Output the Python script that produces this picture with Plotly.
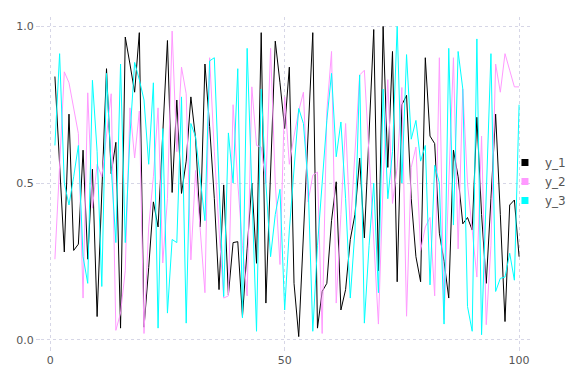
import plotly.graph_objects as go

x = list(range(1, 101))

y_1 = [0.84, 0.56, 0.28, 0.72, 0.285, 0.305, 0.605, 0.257, 0.544, 0.074,
       0.47, 0.865, 0.53, 0.63, 0.037, 0.966, 0.88, 0.79, 0.98, 0.04,
       0.23, 0.44, 0.36, 0.65, 0.955, 0.47, 0.765, 0.467, 0.57, 0.775,
       0.642, 0.36, 0.88, 0.68, 0.45, 0.16, 0.494, 0.143, 0.31, 0.313,
       0.074, 0.29, 0.5, 0.244, 0.98, 0.117, 0.55, 0.953, 0.82, 0.674,
       0.87, 0.18, 0.01, 0.33, 0.65, 0.98, 0.037, 0.154, 0.18, 0.38,
       0.504, 0.095, 0.16, 0.32, 0.4, 0.58, 0.325, 0.65, 0.99, 0.22,
       1.0, 0.55, 0.92, 0.185, 0.75, 0.78, 0.45, 0.265, 0.185, 0.9,
       0.65, 0.626, 0.34, 0.25, 0.133, 0.605, 0.52, 0.37, 0.39, 0.35,
       0.71, 0.4, 0.18, 0.45, 0.72, 0.4, 0.058, 0.43, 0.446, 0.265]

y_2 = [0.257, 0.55, 0.855, 0.82, 0.74, 0.658, 0.133, 0.788, 0.42, 0.56,
       0.52, 0.65, 0.785, 0.03, 0.085, 0.22, 0.74, 0.58, 0.73, 0.02,
       0.36, 0.52, 0.74, 0.245, 0.45, 0.985, 0.6, 0.87, 0.785, 0.255,
       0.54, 0.35, 0.15, 0.90, 0.6, 0.35, 0.133, 0.14, 0.75, 0.5,
       0.3, 0.14, 0.807, 0.62, 0.615, 0.5, 0.93, 0.5, 0.24, 0.775,
       0.56, 0.65, 0.73, 0.79, 0.44, 0.525, 0.535, 0.02, 0.73, 0.92,
       0.117, 0.4, 0.69, 0.35, 0.6, 0.845, 0.86, 0.6, 0.3, 0.05,
       0.5, 0.83, 0.435, 0.55, 0.805, 0.075, 0.55, 0.615, 0.285, 0.36,
       0.39, 0.14, 0.9, 0.064, 0.5, 0.9, 0.29, 0.8, 0.5, 0.35,
       0.2, 0.65, 0.048, 0.3, 0.88, 0.79, 0.913, 0.86, 0.807, 0.807]

y_3 = [0.62, 0.913, 0.5, 0.43, 0.52, 0.62, 0.265, 0.18, 0.828, 0.6,
       0.17, 0.85, 0.55, 0.31, 0.88, 0.31, 0.65, 0.885, 0.83, 0.765,
       0.56, 0.82, 0.037, 0.674, 0.085, 0.32, 0.31, 0.775, 0.053, 0.69,
       0.647, 0.52, 0.38, 0.89, 0.90, 0.5, 0.138, 0.66, 0.5, 0.865,
       0.07, 0.93, 0.5, 0.027, 0.8, 0.5, 0.265, 0.4, 0.48, 0.095,
       0.35, 0.55, 0.738, 0.69, 0.5, 0.027, 0.3, 0.5, 0.7, 0.85,
       0.584, 0.695, 0.45, 0.133, 0.35, 0.845, 0.053, 0.3, 0.5, 0.15,
       0.8, 0.45, 0.6, 1.0, 0.5, 0.91, 0.64, 0.7, 0.57, 0.62,
       0.175, 0.557, 0.5, 0.05, 0.93, 0.366, 0.92, 0.8, 0.106, 0.027,
       0.96, 0.016, 0.5, 0.913, 0.154, 0.196, 0.2, 0.276, 0.19, 0.75]

names = ["y_1", "y_2", "y_3"]
colors = ["#000000", "#ff99ff", "#00ffff"]
series = [y_1, y_2, y_3]

x_ticks = [0, 50, 100]
x_ticktext = ["0", "50", "100"]
y_ticks = [0.0, 0.5, 1.0]
y_ticktext = ["0.0", "0.5", "1.0"]

fig = go.Figure()
for name, col, ys in zip(names, colors, series):
    fig.add_trace(go.Scatter(x=x, y=ys, mode="lines", name=name,
                             line=dict(color=col, width=1), showlegend=False))
for name, col in zip(names, colors):
    fig.add_trace(go.Scatter(x=[None], y=[None], mode="markers", name=name,
                             marker=dict(symbol="square", size=7, color=col)))

grid = "rgba(180,180,210,0.55)"
fig.update_layout(
    width=576, height=384, autosize=False,
    paper_bgcolor="white", plot_bgcolor="white",
    margin=dict(l=33, r=51, t=9, b=46, pad=0),
    font=dict(family="DejaVu Sans", size=11, color="#555555"),
    legend=dict(x=0.943, xanchor="left", y=0.5, yanchor="middle",
                bgcolor="rgba(255,255,255,0)", borderwidth=0,
                font=dict(size=12, color="#555555"), tracegroupgap=0),
)
fig.update_xaxes(range=[-1.97, 102.97], tickvals=x_ticks, ticktext=x_ticktext,
                 showgrid=True, gridcolor=grid, griddash="dot", gridwidth=1,
                 zeroline=False, showline=False, ticks="outside", ticklen=4,
                 tickcolor=grid)
fig.update_yaxes(range=[-0.02, 1.03], tickvals=y_ticks, ticktext=y_ticktext,
                 showgrid=True, gridcolor=grid, griddash="dot", gridwidth=1,
                 zeroline=False, showline=False, ticks="outside", ticklen=4,
                 tickcolor=grid)

fig.write_html("out.html")
